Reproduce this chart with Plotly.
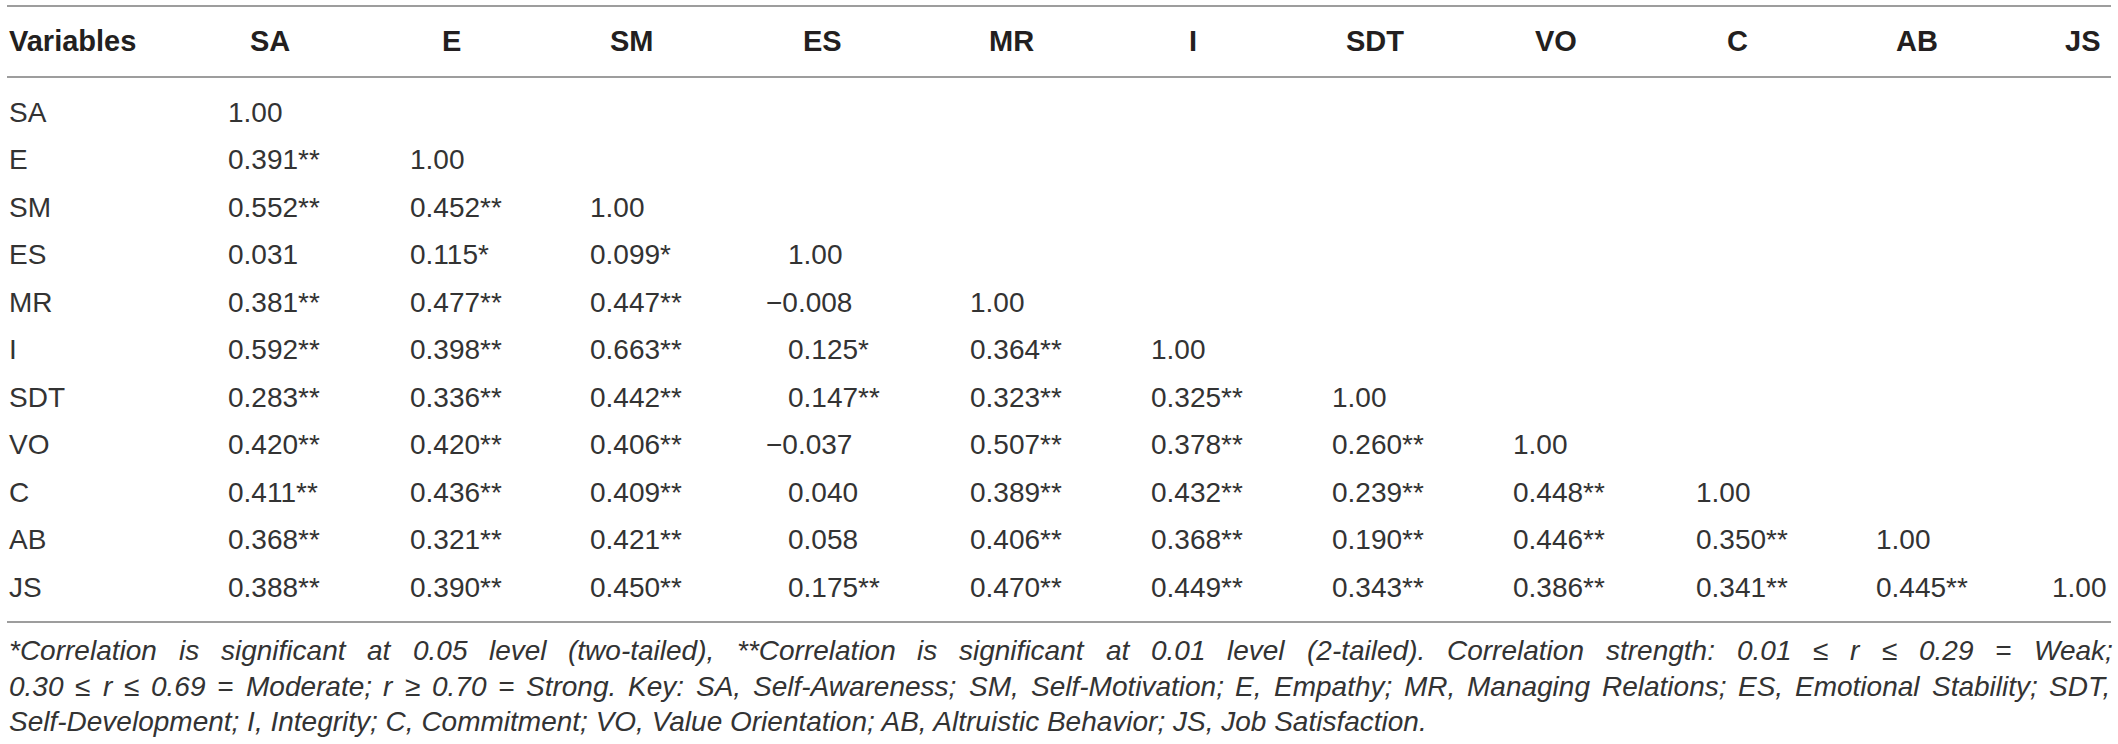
import plotly.graph_objects as go

# Datos de la tabla de correlaciones
header_first = "Variables"
variables = ["SA", "E", "SM", "ES", "MR", "I", "SDT", "VO", "C", "AB", "JS"]

r_SA = ["1.00"]
r_E = ["0.391**", "1.00"]
r_SM = ["0.552**", "0.452**", "1.00"]
r_ES = ["0.031", "0.115*", "0.099*", "1.00"]
r_MR = ["0.381**", "0.477**", "0.447**", "\u22120.008", "1.00"]
r_I = ["0.592**", "0.398**", "0.663**", "0.125*", "0.364**", "1.00"]
r_SDT = ["0.283**", "0.336**", "0.442**", "0.147**", "0.323**", "0.325**", "1.00"]
r_VO = ["0.420**", "0.420**", "0.406**", "\u22120.037", "0.507**", "0.378**", "0.260**", "1.00"]
r_C = ["0.411**", "0.436**", "0.409**", "0.040", "0.389**", "0.432**", "0.239**", "0.448**", "1.00"]
r_AB = ["0.368**", "0.321**", "0.421**", "0.058", "0.406**", "0.368**", "0.190**", "0.446**", "0.350**", "1.00"]
r_JS = ["0.388**", "0.390**", "0.450**", "0.175**", "0.470**", "0.449**", "0.343**", "0.386**", "0.341**", "0.445**", "1.00"]
rows = [r_SA, r_E, r_SM, r_ES, r_MR, r_I, r_SDT, r_VO, r_C, r_AB, r_JS]

footnote_lines = [
    "*Correlation is significant at 0.05 level (two-tailed), **Correlation is significant at 0.01 level "
    "(2-tailed). Correlation strength: 0.01 \u2264 r \u2264 0.29 = Weak;",
    "0.30 \u2264 r \u2264 0.69 = Moderate; r \u2265 0.70 = Strong. Key: SA, Self-Awareness; SM, Self-Motivation; "
    "E, Empathy; MR, Managing Relations; ES, Emotional Stability; SDT,",
    "Self-Development; I, Integrity; C, Commitment; VO, Value Orientation; AB, Altruistic Behavior; "
    "JS, Job Satisfaction.",
]

# Maquetación (píxeles)
W, H = 2118, 744
LEFT, RIGHT = 7, 2111
FONT = "Liberation Sans"
FS = 28
FS_HEAD = 29
INK = "#231f20"
INK_BODY = "#333333"
RULE = "#9d9d9d"
col_value_x = [226, 408, 588, 786, 968, 1149, 1330, 1511, 1694, 1874, 2050]
col_header_x = [270, 451, 632, 822, 1011, 1193, 1375, 1556, 1737, 1917, 2082]
header_y = 41
row_y0, row_step = 112, 47.5
rules_y = [6, 77, 622]
foot_y = [650, 686, 721]
minus_hang = 22

# anchos de Arial/Liberation (por 1000 em) para justificar la nota
AW = {" ": 278, "(": 333, ")": 333, "*": 389, ",": 278, "-": 333, ".": 278, ":": 278, ";": 278,
      "=": 584, "\u2264": 549, "\u2265": 549}
for ch in "0123456789":
    AW[ch] = 556
for ch, w in zip("ABCDEFGHIJKLMNOPQRSTUVWXYZ",
                 [667, 667, 722, 722, 667, 611, 778, 722, 278, 500, 667, 556, 833,
                  722, 778, 667, 778, 722, 667, 611, 722, 667, 944, 667, 667, 611]):
    AW[ch] = w
for ch, w in zip("abcdefghijklmnopqrstuvwxyz",
                 [556, 556, 500, 556, 556, 278, 556, 556, 222, 222, 500, 222, 833,
                  556, 556, 556, 556, 333, 500, 278, 556, 500, 722, 500, 500, 500]):
    AW[ch] = w


def text_w(s, size):
    return sum(AW.get(c, 556) for c in s) * size / 1000.0


fig = go.Figure()
ann = []


def add(x, y, text, anchor="left", size=FS, color=INK_BODY):
    ann.append(dict(x=x, y=y, text=text, xanchor=anchor, xref="x", yref="y",
                    yanchor="middle", showarrow=False,
                    font=dict(family=FONT, size=size, color=color)))


# Encabezado
add(LEFT, header_y, "<b>%s</b>" % header_first, size=FS_HEAD, color=INK)
for v, x in zip(variables, col_header_x):
    add(x, header_y, "<b>%s</b>" % v, anchor="center", size=FS_HEAD, color=INK)

# Filas
for i, (name, vals) in enumerate(zip(variables, rows)):
    y = row_y0 + i * row_step
    add(LEFT, y, name)
    for j, val in enumerate(vals):
        x = col_value_x[j] - (minus_hang if val.startswith("\u2212") else 0)
        add(x, y, val)

# Nota al pie (las dos primeras líneas justificadas)
for k, line in enumerate(footnote_lines):
    y = foot_y[k]
    if k == len(footnote_lines) - 1:
        add(LEFT, y, "<i>%s</i>" % line)
        continue
    words = line.split(" ")
    widths = [text_w(w, FS) for w in words]
    gap = (RIGHT - LEFT - sum(widths)) / (len(words) - 1)
    x = LEFT
    for w, wd in zip(words, widths):
        add(x, y, "<i>%s</i>" % w)
        x += wd + gap

shapes = [dict(type="line", xref="x", yref="y", x0=LEFT, x1=RIGHT, y0=yy, y1=yy,
               line=dict(color=RULE, width=2)) for yy in rules_y]

fig.update_layout(
    width=W, height=H,
    margin=dict(l=0, r=0, t=0, b=0),
    paper_bgcolor="white", plot_bgcolor="white",
    xaxis=dict(range=[0, W], visible=False, fixedrange=True),
    yaxis=dict(range=[H, 0], visible=False, fixedrange=True),
    annotations=ann, shapes=shapes, showlegend=False,
)

# quitar el margen por defecto del body y la barra de herramientas
fig.write_html("out.html", config={"displayModeBar": False},
               post_script="document.body.style.margin='0';")
